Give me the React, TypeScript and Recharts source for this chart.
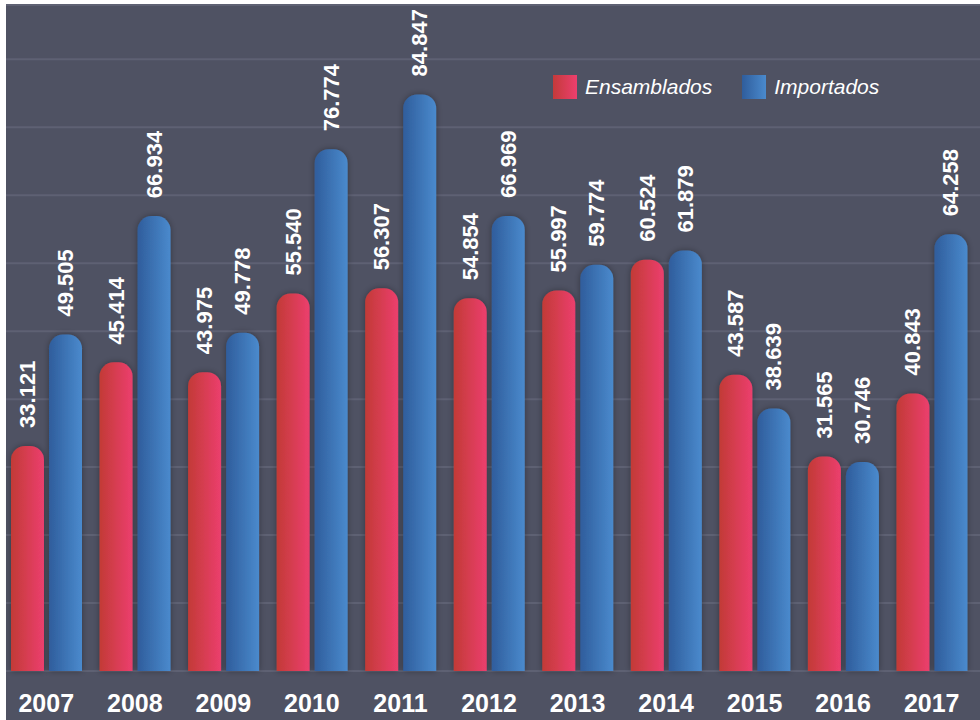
import { BarChart, Bar, XAxis, YAxis, CartesianGrid, LabelList } from 'recharts'

const YEARS = ['2007', '2008', '2009', '2010', '2011', '2012', '2013', '2014', '2015', '2016', '2017']
const ENSAMBLADOS = [33121, 45414, 43975, 55540, 56307, 54854, 55997, 60524, 43587, 31565, 40843]
const IMPORTADOS = [49505, 66934, 49778, 76774, 84847, 66969, 59774, 61879, 38639, 30746, 64258]
const Y_TICKS = [0, 10000, 20000, 30000, 40000, 50000, 60000, 70000, 80000, 90000]

const data = YEARS.map((year, i) => ({
  year,
  ensamblados: ENSAMBLADOS[i],
  importados: IMPORTADOS[i],
}))

const FONT = '"Liberation Sans", Arial, Helvetica, sans-serif'
const BG = '#4f5263'

// 33121 -> "33.121"
const fmt = (v: number) => String(v).replace(/\B(?=(\d{3})+(?!\d))/g, '.')

function ValueLabel(props: any) {
  const { x, y, width, value } = props
  const cx = x + width / 2
  const ty = y - 18
  return (
    <text
      x={cx}
      y={ty}
      transform={`rotate(-90, ${cx}, ${ty})`}
      textAnchor="start"
      dominantBaseline="central"
      fill="#ffffff"
      fontFamily={FONT}
      fontWeight={700}
      fontSize={22}
    >
      {fmt(value)}
    </text>
  )
}

function YearTick(props: any) {
  const { x, y, payload } = props
  return (
    <text
      x={x}
      y={y + 33}
      textAnchor="middle"
      fill="#ffffff"
      fontFamily={FONT}
      fontWeight={700}
      fontSize={25}
    >
      {payload.value}
    </text>
  )
}

function LegendBox() {
  const items = [
    { label: 'Ensamblados', bg: 'linear-gradient(90deg, #c43a3a, #ec3f6e)' },
    { label: 'Importados', bg: 'linear-gradient(90deg, #2f5d9c, #4a8acd)' },
  ]
  return (
    <div style={{ position: 'absolute', left: 553, top: 75, display: 'flex', alignItems: 'center', gap: 30 }}>
      {items.map((it) => (
        <div key={it.label} style={{ display: 'flex', alignItems: 'center', gap: 8 }}>
          <div style={{ width: 24, height: 24, background: it.bg }} />
          <span
            style={{
              color: '#ffffff',
              fontFamily: FONT,
              fontStyle: 'italic',
              fontSize: 21,
            }}
          >
            {it.label}
          </span>
        </div>
      ))}
    </div>
  )
}

export default function App() {
  return (
    <div style={{ position: 'absolute', left: 0, top: 0, width: 980, height: 720, background: '#ffffff' }}>
      <div style={{ position: 'absolute', left: 6, top: 5, width: 974, height: 715, background: BG }} />
      <div style={{ position: 'absolute', left: 0, top: 0 }}>
        <BarChart
          width={980}
          height={720}
          data={data}
          margin={{ top: 5, right: 0, bottom: 0, left: 6 }}
          barSize={33}
          barGap={5}
        >
          <defs>
            <linearGradient id="gradRed" x1="0" y1="0" x2="1" y2="0">
              <stop offset="0%" stopColor="#c23a36" />
              <stop offset="100%" stopColor="#ec3f6e" />
            </linearGradient>
            <linearGradient id="gradBlue" x1="0" y1="0" x2="1" y2="0">
              <stop offset="0%" stopColor="#2f5d9c" />
              <stop offset="100%" stopColor="#4a8acd" />
            </linearGradient>
            <filter id="barShadow" x="-30%" y="-10%" width="160%" height="120%">
              <feDropShadow dx="0" dy="0" stdDeviation="3" floodColor="#000000" floodOpacity="0.35" />
            </filter>
          </defs>
          <CartesianGrid vertical={false} stroke="#5e6173" strokeWidth={2} />
          <XAxis
            dataKey="year"
            height={49}
            axisLine={false}
            tickLine={false}
            interval={0}
            padding={{ left: -4, right: 4 }}
            tick={<YearTick />}
          />
          <YAxis hide domain={[0, 98000]} ticks={Y_TICKS} />
          <Bar
            dataKey="ensamblados"
            name="Ensamblados"
            fill="url(#gradRed)"
            radius={[14, 14, 0, 0]}
            filter="url(#barShadow)"
            isAnimationActive={false}
          >
            <LabelList dataKey="ensamblados" content={<ValueLabel />} />
          </Bar>
          <Bar
            dataKey="importados"
            name="Importados"
            fill="url(#gradBlue)"
            radius={[14, 14, 0, 0]}
            filter="url(#barShadow)"
            isAnimationActive={false}
          >
            <LabelList dataKey="importados" content={<ValueLabel />} />
          </Bar>
        </BarChart>
      </div>
      <LegendBox />
    </div>
  )
}
